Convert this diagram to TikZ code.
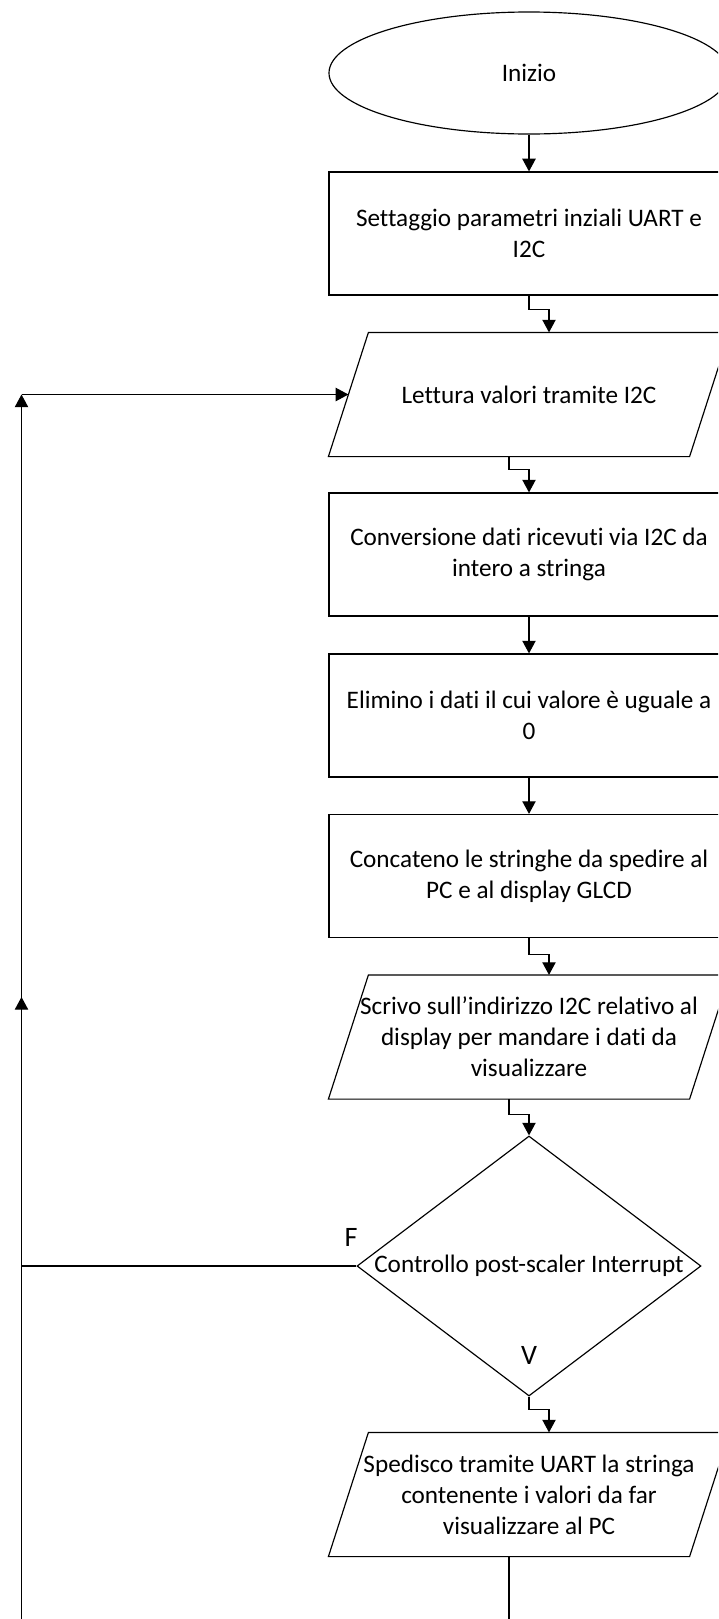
\documentclass[tikz,border=0pt]{standalone}
\usepackage{fontspec}
\setmainfont{Carlito}[Ligatures=NoCommon]
\usetikzlibrary{shapes.geometric,arrows.meta}

\tikzset{
  termbox/.style={ellipse,draw,minimum width=12cm,minimum height=3.66cm},
  procbox/.style={rectangle,draw,minimum width=12cm,minimum height=3.69cm,align=center},
  iobox/.style={rectangle,minimum width=10.8cm,minimum height=3.69cm,align=center},
  decbox/.style={diamond,draw,aspect=1.32,inner sep=0pt,minimum width=10.32cm,minimum height=7.8cm},
  branchlbl/.style={font=\fontsize{24}{28}\selectfont},
  arr/.style={-{Triangle[length=0.38cm,width=0.4cm]}},
}

\begin{document}
\begin{tikzpicture}[x=0.03cm,y=-0.03cm,line width=1pt,font=\fontsize{21.5}{26.4}\selectfont]
\clip (0,0) rectangle (718,1619);

\node[termbox] (start) at (529,73) {Inizio};
\node[procbox] (set) at (529,233.5) {Settaggio parametri inziali UART e\\I2C};
\node[iobox] (read) at (529,394.5) {Lettura valori tramite I2C};
\node[procbox] (conv) at (529,554.5) {Conversione dati ricevuti via I2C da\\intero a stringa};
\node[procbox] (drop) at (529,715.5) {Elimino i dati il cui valore è uguale a\\0};
\node[procbox] (join) at (529,876) {Concateno le stringhe da spedire al\\PC e al display GLCD};
\node[iobox] (write) at (529,1037) {Scrivo sull’indirizzo I2C relativo al\\display per mandare i dati da\\visualizzare};
\node[decbox] (check) at (529,1266) {Controllo post-scaler Interrupt};
\node[iobox] (send) at (529,1494.5) {Spedisco tramite UART la stringa\\contenente i valori da far\\visualizzare al PC};

% slanted input/output boxes
\foreach \n in {read,write,send}
  \draw ([xshift=0.6cm]\n.north west) -- ([xshift=0.6cm]\n.north east)
    -- ([xshift=-0.6cm]\n.south east) -- ([xshift=-0.6cm]\n.south west) -- cycle;

\node[branchlbl] (lblF) at (351,1237) {F};
\node[branchlbl] (lblV) at (529,1355) {V};

\draw[arr] (start) -- (set);
\draw[arr] (set.south) -- ++(0,14) -| ([xshift=0.6cm]read.north);
\draw[arr] ([xshift=-0.6cm]read.south) -- ++(0,13) -| (conv.north);
\draw[arr] (conv) -- (drop);
\draw[arr] (drop) -- (join);
\draw[arr] (join.south) -- ++(0,16) -| ([xshift=0.6cm]write.north);
\draw[arr] ([xshift=-0.6cm]write.south) -- ++(0,15) -| (check.north);
\draw[arr] (check.south) -- ++(0,13) -| ([xshift=0.6cm]send.north);

% loop back
\coordinate (loopTop) at (21.5,394.5);
\coordinate (loopUp) at (21.5,997);
\draw[arr] ([xshift=-0.6cm]send.south) -- ++(0,84) -| (loopUp);
\draw[arr] (check.west) -| (loopTop);
\draw[arr] (loopTop) -- (read.west);

\end{tikzpicture}
\end{document}
